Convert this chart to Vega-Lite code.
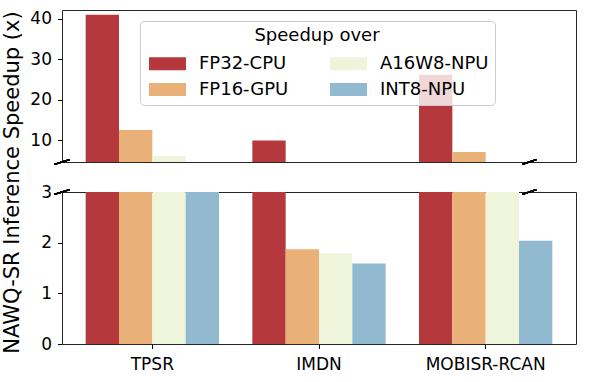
{
  "$schema": "https://vega.github.io/schema/vega-lite/v6.json",
  "padding": {"left": 0, "top": 9, "right": 5, "bottom": 5},
  "background": "white",
  "config": {
    "font": "DejaVu Sans",
    "view": {"stroke": "#262626", "strokeWidth": 1},
    "axis": {"labelFont": "DejaVu Sans", "labelFontSize": 17, "labelColor": "#000", "tickColor": "#000", "tickSize": 4.5, "domain": false, "grid": false, "labelPadding": 5}
  },
  "data": {"values": [
    {"model": "TPSR", "method": "FP32-CPU", "speedup": 41.0},
    {"model": "TPSR", "method": "FP16-GPU", "speedup": 12.5},
    {"model": "TPSR", "method": "A16W8-NPU", "speedup": 6.1},
    {"model": "TPSR", "method": "INT8-NPU", "speedup": 4.0},
    {"model": "IMDN", "method": "FP32-CPU", "speedup": 9.9},
    {"model": "IMDN", "method": "FP16-GPU", "speedup": 1.87},
    {"model": "IMDN", "method": "A16W8-NPU", "speedup": 1.79},
    {"model": "IMDN", "method": "INT8-NPU", "speedup": 1.59},
    {"model": "MOBISR-RCAN", "method": "FP32-CPU", "speedup": 26.2},
    {"model": "MOBISR-RCAN", "method": "FP16-GPU", "speedup": 7.1},
    {"model": "MOBISR-RCAN", "method": "A16W8-NPU", "speedup": 3.9},
    {"model": "MOBISR-RCAN", "method": "INT8-NPU", "speedup": 2.04}
  ]},
  "spacing": 30,
  "bounds": "flush",
  "resolve": {"scale": {"x": "independent", "y": "independent", "color": "independent"}, "legend": {"color": "independent"}},
  "vconcat": [
    {
      "width": 514,
      "height": 152,
      "resolve": {"scale": {"x": "independent"}},
      "layer": [
        {
          "mark": {"type": "bar", "clip": true},
          "encoding": {
            "x": {"field": "model", "type": "nominal", "sort": ["TPSR", "IMDN", "MOBISR-RCAN"], "scale": {"paddingInner": 0.2, "paddingOuter": 0.142}, "axis": null},
            "xOffset": {"field": "method", "type": "nominal", "sort": ["FP32-CPU", "FP16-GPU", "A16W8-NPU", "INT8-NPU"], "scale": {"paddingInner": 0, "paddingOuter": 0}},
            "y": {"field": "speedup", "type": "quantitative", "scale": {"domain": [4.6, 42.2], "nice": false, "zero": false}, "axis": {"values": [10, 20, 30, 40], "title": null, "labelPadding": 6}},
            "color": {
              "field": "method", "type": "nominal",
              "scale": {"domain": ["FP32-CPU", "FP16-GPU", "A16W8-NPU", "INT8-NPU"], "range": ["#b5393c", "#e9b077", "#eff5db", "#91b9d0"]},
              "legend": {
                "orient": "none", "legendX": 78, "legendY": 11, "columns": 2,
                "title": "Speedup over", "titleFontSize": 18, "titleFontWeight": "normal", "titleAnchor": "middle", "titleColor": "#000", "titlePadding": 5,
                "labelFontSize": 18, "labelColor": "#000",
                "symbolType": "M-1.37,-0.48H1.37V0.48H-1.37Z", "symbolSize": 729, "symbolOffset": 8, "labelOffset": 18,
                "columnPadding": 38, "rowPadding": 3, "padding": 6,
                "fillColor": "rgba(255,255,255,0.8)", "strokeColor": "#cccccc", "cornerRadius": 4,
                "symbolStrokeWidth": 0, "symbolOpacity": 1
              }
            }
          }
        },
        {
          "mark": {"type": "rule", "color": "#000", "strokeWidth": 1.3},
          "encoding": {
            "x": {"datum": -0.015, "type": "quantitative", "scale": {"domain": [0, 1], "nice": false, "zero": false}, "axis": null},
            "x2": {"datum": 0.015},
            "y": {"datum": 4.03, "type": "quantitative"},
            "y2": {"datum": 5.17}
          }
        },
        {
          "mark": {"type": "rule", "color": "#000", "strokeWidth": 1.3},
          "encoding": {
            "x": {"datum": 0.985, "type": "quantitative", "axis": null},
            "x2": {"datum": 1.015},
            "y": {"datum": 4.03, "type": "quantitative"},
            "y2": {"datum": 5.17}
          }
        }
      ]
    },
    {
      "width": 514,
      "height": 152,
      "resolve": {"scale": {"x": "independent"}},
      "layer": [
        {
          "mark": {"type": "bar", "clip": true},
          "encoding": {
            "x": {"field": "model", "type": "nominal", "sort": ["TPSR", "IMDN", "MOBISR-RCAN"], "scale": {"paddingInner": 0.2, "paddingOuter": 0.142}, "axis": {"title": null, "labelAngle": 0, "labelPadding": 8}},
            "xOffset": {"field": "method", "type": "nominal", "sort": ["FP32-CPU", "FP16-GPU", "A16W8-NPU", "INT8-NPU"], "scale": {"paddingInner": 0, "paddingOuter": 0}},
            "y": {"field": "speedup", "type": "quantitative", "scale": {"domain": [0, 3], "nice": false}, "axis": {"values": [0, 1, 2, 3], "labelPadding": 6, "title": "NAWQ-SR Inference Speedup (x)", "titleFontSize": 21, "titleFontWeight": "normal", "titleColor": "#000", "titleX": -50, "titleY": -10, "titleAngle": -90, "titleAlign": "center", "titleBaseline": "middle"}},
            "color": {
              "field": "method", "type": "nominal",
              "scale": {"domain": ["FP32-CPU", "FP16-GPU", "A16W8-NPU", "INT8-NPU"], "range": ["#b5393c", "#e9b077", "#eff5db", "#91b9d0"]},
              "legend": null
            }
          }
        },
        {
          "mark": {"type": "rule", "color": "#000", "strokeWidth": 1.3},
          "encoding": {
            "x": {"datum": -0.015, "type": "quantitative", "scale": {"domain": [0, 1], "nice": false, "zero": false}, "axis": null},
            "x2": {"datum": 0.015},
            "y": {"datum": 2.955, "type": "quantitative"},
            "y2": {"datum": 3.045}
          }
        },
        {
          "mark": {"type": "rule", "color": "#000", "strokeWidth": 1.3},
          "encoding": {
            "x": {"datum": 0.985, "type": "quantitative", "axis": null},
            "x2": {"datum": 1.015},
            "y": {"datum": 2.955, "type": "quantitative"},
            "y2": {"datum": 3.045}
          }
        }
      ]
    }
  ]
}
